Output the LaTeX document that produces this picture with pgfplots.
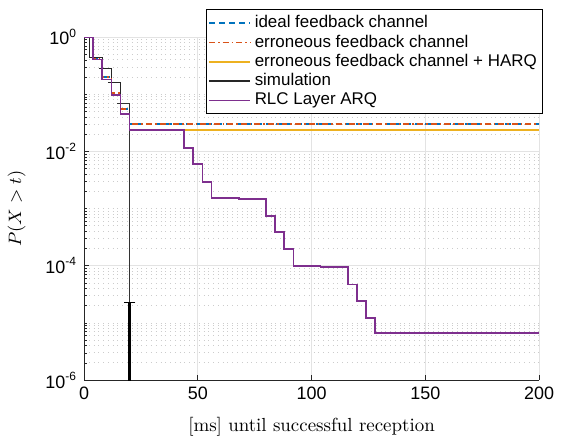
\documentclass[border=0pt]{standalone}
\usepackage{pgfplots}
\pgfplotsset{compat=1.18}
\usepackage{fontspec}
\newfontfamily\helv{Liberation Sans}

\definecolor{mblue}{rgb}{0,0.447,0.741}
\definecolor{morange}{rgb}{0.85,0.325,0.098}
\definecolor{myellow}{rgb}{0.929,0.694,0.125}
\definecolor{mpurple}{rgb}{0.494,0.184,0.556}

\begin{document}
\begin{tikzpicture}
\begin{axis}[
    scale only axis,
    width=227.5bp, height=171.5bp,
    ymode=log,
    xmin=0, xmax=200, ymin=1e-6, ymax=1,
    axis lines*=left,
    axis line style={black!85, line width=0.4pt},
    tick align=inside,
    tick style={black!85, line width=0.3pt},
    major tick length=2.5pt, minor tick length=1.5pt,
    xtick={0,50,100,150,200},
    xticklabels={0,50,100,150,200},
    ytick={1e-6,1e-4,1e-2,1},
    yticklabels={{\helv 10\textsuperscript{-6}},{\helv 10\textsuperscript{-4}},{\helv 10\textsuperscript{-2}},{\helv 10\textsuperscript{0}}},
    minor ytick={2e-6,3e-6,4e-6,5e-6,6e-6,7e-6,8e-6,9e-6,1e-5,
                 2e-5,3e-5,4e-5,5e-5,6e-5,7e-5,8e-5,9e-5,
                 2e-4,3e-4,4e-4,5e-4,6e-4,7e-4,8e-4,9e-4,1e-3,
                 2e-3,3e-3,4e-3,5e-3,6e-3,7e-3,8e-3,9e-3,
                 2e-2,3e-2,4e-2,5e-2,6e-2,7e-2,8e-2,9e-2,1e-1,
                 2e-1,3e-1,4e-1,5e-1,6e-1,7e-1,8e-1,9e-1},
    xticklabel style={font=\fontsize{9}{10}\helv},
    yticklabel style={font=\fontsize{9}{10}\helv},
    grid=both,
    major grid style={gray!22, line width=0.4pt},
    minor grid style={gray!40, dotted, line width=0.4pt},
    xlabel={[ms] until successful reception},
    ylabel={$P(X>t)$},
    label style={font=\fontsize{9.5}{11}\selectfont},
    xlabel style={yshift=-2pt},
    ylabel style={yshift=3pt},
    clip mode=individual,
    legend style={at={(1.009,1.082)}, anchor=north east,
      font=\fontsize{8.5}{9}\helv, draw=black,
      fill=white, inner sep=1pt, row sep=-1.9pt},
    legend cell align=left,
    legend image code/.code={\draw[line width=0.8pt,#1] (0cm,0cm) -- (0.72cm,0cm);},
  ]
  \addplot[mblue, line width=0.75pt, dash pattern=on 3pt off 2pt, const plot]
    coordinates {(0,1)(4,0.42)(8,0.2)(12,0.105)(16,0.055)(20,0.030)(200,0.030)};
  \addlegendentry{ideal feedback channel}
  \addplot[morange, line width=0.75pt, dash pattern=on 3pt off 1.5pt on 0.8pt off 1.5pt, const plot]
    coordinates {(0,1)(4,0.42)(8,0.2)(12,0.105)(16,0.055)(20,0.030)(200,0.030)};
  \addlegendentry{erroneous feedback channel}
  \addplot[myellow, line width=0.7pt, const plot]
    coordinates {(0,1)(4,0.407)(8,0.182)(12,0.0968)(16,0.045)(20,0.0236)(200,0.0236)};
  \addlegendentry{erroneous feedback channel + HARQ}
  \addplot[black!85, line width=0.7pt]
    coordinates {(0,1)(2.5,1)(2.5,0.44)(8,0.44)(8,0.37)};
  \addlegendentry{simulation}
  \addplot[black!85, line width=0.7pt, forget plot]
    coordinates {(6.5,0.283)(12,0.283)(12,0.19)};
  \addplot[black!85, line width=0.7pt, forget plot]
    coordinates {(10.5,0.159)(16,0.159)(16,0.097)};
  \addplot[black!80, line width=0.6pt, forget plot]
    coordinates {(14.5,0.069)(20,0.069)(20,1e-7)};
  \addplot[black, line width=1.3pt, forget plot]
    coordinates {(20,2.3e-5)(20,1e-7)};
  \addplot[black, only marks, mark=-, mark size=3pt, mark options={line width=0.7pt}, forget plot]
    coordinates {(20,2.3e-5)};
  \addplot[mpurple, line width=0.8pt, const plot]
    coordinates {(0,1)(4,0.407)(8,0.182)(12,0.0968)(16,0.045)(20,0.0236)
      (44,0.0114)(48,0.006)(52,0.00294)(56,0.00152)(68,0.00147)
      (80,7.4e-4)(84,3.9e-4)(88,1.96e-4)(92,9.9e-5)(104,9.4e-5)
      (116,4.72e-5)(120,2.41e-5)(124,1.23e-5)(128,6.6e-6)(200,6.6e-6)};
  \addlegendentry{RLC Layer ARQ}
  \path (rel axis cs:-0.1846,-0.169) rectangle (rel axis cs:1.068,1.108);
\end{axis}
\end{tikzpicture}
\end{document}
